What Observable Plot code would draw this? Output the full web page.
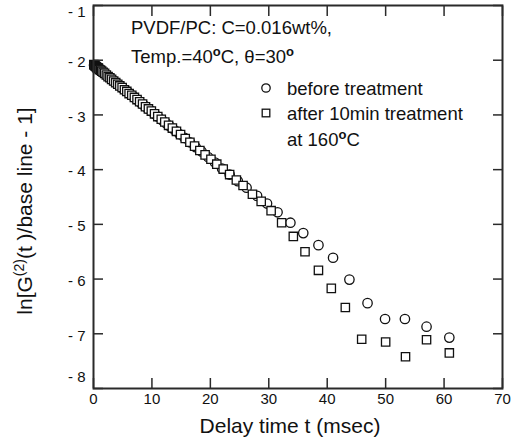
<!DOCTYPE html>
<html><head><meta charset="utf-8">
<script src="https://cdn.jsdelivr.net/npm/d3@7"></script>
<script src="https://cdn.jsdelivr.net/npm/@observablehq/plot@0.6"></script>
<style>
body{margin:0;background:#fff;}
svg{font-family:"Liberation Sans",Arial,sans-serif;}
</style>
</head><body><div id="chart"></div>
<script>
// Delay time (msec) and ln[G2/baseline-1] — before treatment (circles)
const beforeT = [0.1,0.2,0.3,0.4,0.5,0.6,0.7,0.8,0.9,1.05,1.25,1.45,1.65,1.9,2.15,2.4,2.7,3.0,3.3,3.6,3.95,4.3,4.65,5.05,5.45,5.85,6.3,6.75,7.2,7.7,8.2,8.7,9.25,9.8,10.4,11.0,11.7,12.4,13.1,13.9,14.7,15.6,16.5,17.5,18.5,19.6,20.8,22.0,23.3,24.7,26.2,28.0,29.7,31.5,33.7,35.9,38.5,41.0,43.8,46.9,49.9,53.3,57.0,60.9];
const beforeV = [-2.09,-2.10,-2.11,-2.11,-2.12,-2.13,-2.14,-2.15,-2.16,-2.17,-2.19,-2.20,-2.22,-2.24,-2.27,-2.29,-2.31,-2.34,-2.36,-2.39,-2.42,-2.45,-2.48,-2.52,-2.55,-2.58,-2.62,-2.66,-2.70,-2.74,-2.79,-2.83,-2.88,-2.92,-2.98,-3.03,-3.09,-3.15,-3.21,-3.28,-3.35,-3.42,-3.50,-3.59,-3.67,-3.77,-3.87,-3.98,-4.09,-4.21,-4.33,-4.48,-4.62,-4.78,-4.97,-5.16,-5.38,-5.61,-6.01,-6.44,-6.73,-6.73,-6.87,-7.07];
// after 10min treatment at 160 °C (squares)
const afterT = [0.05,0.15,0.25,0.35,0.45,0.55,0.65,0.75,0.85,1.0,1.2,1.4,1.65,1.9,2.2,2.5,2.8,3.1,3.45,3.8,4.15,4.5,4.9,5.3,5.7,6.1,6.55,7.0,7.45,7.9,8.4,8.9,9.4,9.9,10.45,11.0,11.6,12.2,12.85,13.5,14.2,14.9,15.7,16.5,17.3,18.2,19.1,20.1,21.1,22.2,23.3,24.45,25.6,27.2,28.7,30.4,32.2,34.2,36.2,38.5,40.7,43.1,45.9,50.0,53.4,57.0,60.9];
const afterV = [-2.08,-2.09,-2.10,-2.11,-2.12,-2.13,-2.14,-2.14,-2.15,-2.17,-2.18,-2.20,-2.22,-2.24,-2.27,-2.30,-2.32,-2.35,-2.38,-2.41,-2.44,-2.47,-2.50,-2.54,-2.57,-2.61,-2.64,-2.68,-2.72,-2.76,-2.80,-2.85,-2.89,-2.93,-2.98,-3.03,-3.08,-3.13,-3.19,-3.24,-3.30,-3.36,-3.43,-3.50,-3.57,-3.65,-3.73,-3.81,-3.90,-3.99,-4.09,-4.19,-4.29,-4.45,-4.58,-4.75,-4.97,-5.22,-5.50,-5.84,-6.17,-6.52,-7.10,-7.15,-7.42,-7.11,-7.35];

const xTicks = [0,10,20,30,40,50,60,70];
const yTicks = [-1,-2,-3,-4,-5,-6,-7,-8];
const yTickLabels = ["- 1","- 2","- 3","- 4","- 5","- 6","- 7","- 8"];
const xLabel = "Delay time t (msec)";
const seriesNames = ["before treatment","after 10min treatment","at 160"];

const before = beforeT.map((t,i)=>({t, v: beforeV[i]})).filter(d=>d.v!=null);
const after = afterT.map((t,i)=>({t, v: afterV[i]})).filter(d=>d.v!=null);
const yLab = yTicks.map((v,i)=>({v, label: yTickLabels[i]}));

const ink = "#2a2a2a";
const plot = Plot.plot({
  width: 517, height: 440,
  marginLeft: 93, marginRight: 15, marginTop: 5, marginBottom: 52,
  style: {fontFamily: '"Liberation Sans", Arial, sans-serif', background: "white", color: ink},
  x: {domain: [0,70]},
  y: {domain: [-8,-1]},
  marks: [
    Plot.dot(before, {x:"t", y:"v", symbol:"circle", r:4.7, fill:"white", stroke:"#111", strokeWidth:1.3}),
    Plot.dot(after, {x:"t", y:"v", symbol:"square", r:4.7, fill:"white", stroke:"#111", strokeWidth:1.3}),
    Plot.frame({stroke: ink, strokeWidth: 2}),
    Plot.axisX(xTicks, {anchor:"bottom", tickSize:-10, fill:"none", label:null, stroke:ink, strokeWidth:1.5}),
    Plot.axisX(xTicks, {anchor:"top", tickSize:-10, fill:"none", label:null, stroke:ink, strokeWidth:1.5}),
    Plot.axisY(yTicks, {anchor:"left", tickSize:-10, fill:"none", label:null, stroke:ink, strokeWidth:1.5}),
    Plot.axisY(yTicks, {anchor:"right", tickSize:-10, fill:"none", label:null, stroke:ink, strokeWidth:1.5}),
    Plot.axisX(xTicks, {anchor:"bottom", tickSize:0, tickPadding:5, fontSize:15, label:null, fill:"#111"}),
    Plot.text(yLab.filter(d=>d.v===-1), {y:"v", text:"label", frameAnchor:"left", dx:-8, dy:7, textAnchor:"end", fontSize:15, fill:"#111"}),
    Plot.text(yLab.filter(d=>d.v<-1 && d.v>-8), {y:"v", text:"label", frameAnchor:"left", dx:-8, dy:2, textAnchor:"end", fontSize:15, fill:"#111"}),
    Plot.text(yLab.filter(d=>d.v===-8), {y:"v", text:"label", frameAnchor:"left", dx:-8, dy:-11, textAnchor:"end", fontSize:15, fill:"#111"})
  ]
});
document.getElementById("chart").appendChild(plot);

const svg = d3.select(plot);
const g = svg.append("g").attr("fill","#111").attr("font-size",18.5).attr("text-anchor","start");
g.append("text").attr("x",131).attr("y",33.5).text("PVDF/PC: C=0.016wt%,");
const t2 = g.append("text").attr("x",131).attr("y",63);
t2.append("tspan").text("Temp.=40");
t2.append("tspan").attr("font-weight","bold").attr("font-size",13).attr("dy",-7).text("o");
t2.append("tspan").attr("dy",7).text("C, θ=30");
t2.append("tspan").attr("font-weight","bold").attr("font-size",13).attr("dy",-7).text("o");

// legend
g.append("circle").attr("cx",266).attr("cy",88).attr("r",4.2).attr("fill","white").attr("stroke","#111").attr("stroke-width",1.3);
g.append("rect").attr("x",262.2).attr("y",109.2).attr("width",7.6).attr("height",7.6).attr("fill","white").attr("stroke","#111").attr("stroke-width",1.3);
g.append("text").attr("x",287).attr("y",94.5).text(seriesNames[0]);
g.append("text").attr("x",287).attr("y",119.5).text(seriesNames[1]);
const t3 = g.append("text").attr("x",287).attr("y",146);
t3.append("tspan").text(seriesNames[2]);
t3.append("tspan").attr("font-weight","bold").attr("font-size",13).attr("dy",-7).text("o");
t3.append("tspan").attr("dy",7).text("C");

// axis titles
svg.append("text").attr("x",290).attr("y",433).attr("text-anchor","middle").attr("font-size",21).attr("fill","#111").text(xLabel);
const yl = svg.append("text").attr("transform","translate(32,211) rotate(-90)").attr("text-anchor","middle").attr("font-size",21).attr("fill","#111");
yl.append("tspan").text("ln[G");
yl.append("tspan").attr("font-size",14).attr("dy",-8).text("(2)");
yl.append("tspan").attr("dy",8).text("(t )/base line - 1]");
</script>
</body></html>
